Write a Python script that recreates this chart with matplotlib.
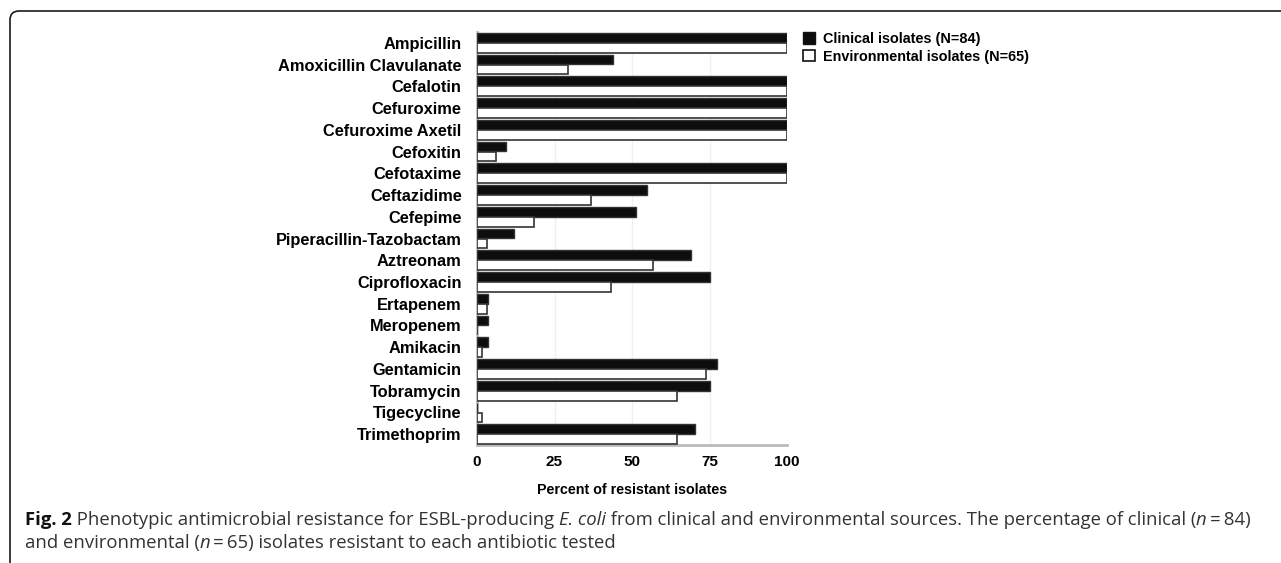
import matplotlib
matplotlib.use("Agg")
import matplotlib.pyplot as plt
import matplotlib.patches as mpatches
import numpy as np

antibiotics = ["Ampicillin", "Amoxicillin Clavulanate", "Cefalotin", "Cefuroxime",
               "Cefuroxime Axetil", "Cefoxitin", "Cefotaxime", "Ceftazidime", "Cefepime",
               "Piperacillin-Tazobactam", "Aztreonam", "Ciprofloxacin", "Ertapenem",
               "Meropenem", "Amikacin", "Gentamicin", "Tobramycin", "Tigecycline",
               "Trimethoprim"]
clinical = [100, 44.0, 100, 100, 100, 9.5, 100, 54.8, 51.2, 11.9, 69.0, 75.0, 3.6,
            3.6, 3.6, 77.4, 75.0, 0, 70.2]
environmental = [100, 29.2, 100, 100, 100, 6.2, 100, 36.9, 18.5, 3.1, 56.9, 43.1, 3.1,
                 0, 1.5, 73.8, 64.6, 1.5, 64.6]
xticks = [0, 25, 50, 75, 100]

W, H = 1281, 563
fig = plt.figure(figsize=(W / 100, H / 100), dpi=100)
ax = fig.add_axes([477 / W, 1 - 445 / H, (787 - 477) / W, (445 - 32) / H])

lab_font = "Liberation Sans"
y = np.arange(len(antibiotics))
bh = 0.45
ax.barh(y - 0.23, clinical, height=bh, color="#0d0d0d", edgecolor="#333333", linewidth=1.0,
        label="Clinical isolates (N=84)", zorder=3)
ax.barh(y + 0.23, environmental, height=bh, color="white", edgecolor="#333333", linewidth=1.2,
        label="Environmental isolates (N=65)", zorder=3)

ax.set_ylim(len(antibiotics) - 0.5, -0.5)
ax.set_xlim(0, 100)
ax.set_yticks(y)
ax.set_yticklabels(antibiotics, fontfamily=lab_font, fontweight="bold", fontsize=11.8)
ax.set_xticks(xticks)
ax.set_xticklabels([str(t) for t in xticks], fontfamily=lab_font, fontweight="bold", fontsize=11)
ax.tick_params(axis="y", length=0, pad=11)
ax.tick_params(axis="x", length=0, pad=7)
ax.set_xlabel("Percent of resistant isolates", fontfamily=lab_font, fontweight="bold",
              fontsize=10.3, labelpad=10)
ax.grid(axis="x", color="#f0f0f0", linewidth=1, zorder=0)
for s in ["top", "right"]:
    ax.spines[s].set_visible(False)
for s in ["left", "bottom"]:
    ax.spines[s].set_color("#bbbbbb")
    ax.spines[s].set_linewidth(2)

handles = [mpatches.Patch(facecolor="#0d0d0d", edgecolor="#111111", linewidth=1),
           mpatches.Patch(facecolor="white", edgecolor="#111111", linewidth=1.2)]
fig.legend(handles, ["Clinical isolates (N=84)", "Environmental isolates (N=65)"],
           loc="upper left", bbox_to_anchor=(803 / W, 1 - 32 / H), frameon=False,
           handlelength=0.83, handleheight=0.83, handletextpad=0.55, labelspacing=0.25,
           borderpad=0, borderaxespad=0,
           prop={"family": lab_font, "weight": "bold", "size": 10.4})

# border box (runs off the right and bottom edges)
box = mpatches.FancyBboxPatch((0.10, -1.0), 14.0, 5.63 - 0.11 + 1.0,
                              boxstyle="round,pad=0,rounding_size=0.09",
                              transform=fig.dpi_scale_trans, facecolor="none",
                              edgecolor="#1a1a1a", linewidth=1.2, clip_on=False)
fig.patches.append(box)

# caption, drawn piece by piece to mix bold / italic
cap_font = "Open Sans"
cs = 13.3
pieces1 = [("Fig. 2", "bold", "normal", "#111111"),
           (" Phenotypic antimicrobial resistance for ESBL-producing ", "normal", "normal", "#333333"),
           ("E. coli", "normal", "italic", "#333333"),
           (" from clinical and environmental sources. The percentage of clinical (", "normal", "normal", "#333333"),
           ("n", "normal", "italic", "#333333"),
           ("\u2009=\u200984)", "normal", "normal", "#333333")]
pieces2 = [("and environmental (", "normal", "normal", "#333333"),
           ("n", "normal", "italic", "#333333"),
           ("\u2009=\u200965) isolates resistant to each antibiotic tested", "normal", "normal", "#333333")]


def draw_line(pieces, x0, y0):
    fig.canvas.draw()
    r = fig.canvas.get_renderer()
    x = x0
    for txt, w, st, c in pieces:
        t = fig.text(x / W, 1 - y0 / H, txt, fontfamily=[cap_font, "DejaVu Sans"], fontweight=w,
                     fontstyle=st, fontsize=cs, color=c, va="baseline")
        bb = t.get_window_extent(renderer=r)
        x += bb.width


draw_line(pieces1, 25, 525)
draw_line(pieces2, 25, 548)

fig.savefig("out.png", dpi=100)
